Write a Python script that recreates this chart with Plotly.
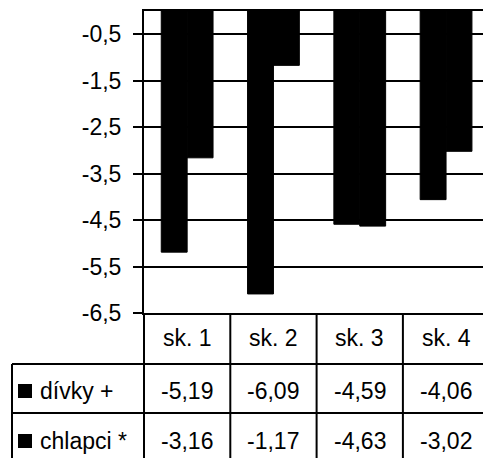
import plotly.graph_objects as go

# Group labels and values (mean change per group)
categories = ["sk. 1", "sk. 2", "sk. 3", "sk. 4"]
series_names = ["dívky +", "chlapci *"]
divky = [-5.19, -6.09, -4.59, -4.06]
chlapci = [-3.16, -1.17, -4.63, -3.02]

tick_vals = [-0.5, -1.5, -2.5, -3.5, -4.5, -5.5, -6.5]
tick_text = ["-0,5", "-1,5", "-2,5", "-3,5", "-4,5", "-5,5", "-6,5"]

W, H = 483, 458
ML, MR, MT, MB = 144, 0, 11, 145
PW, PH = W - ML - MR, H - MT - MB
FONT = dict(family="Liberation Sans, Arial, sans-serif", size=23, color="black")
LINE = dict(color="black", width=2)


def px_x(p):
    """pixel column -> paper x"""
    return (p - ML) / PW


def px_y(p):
    """pixel row -> paper y"""
    return (H - MB - p) / PH


def fmt(v):
    return f"{v:.2f}".replace(".", ",")


idx = list(range(len(categories)))
fig = go.Figure()
for name, vals in zip(series_names, [divky, chlapci]):
    fig.add_trace(go.Bar(x=idx, y=vals, name=name,
                         marker=dict(color="black", line=dict(color="black", width=1)),
                         showlegend=False))

shapes = []
annotations = []

# data-table grid lines
table_left = px_x(12)
row_lines = [px_y(364), px_y(413)]
bottom = px_y(H + 5)
for yl in row_lines:
    shapes.append(dict(type="line", xref="paper", yref="paper", x0=table_left, x1=1, y0=yl, y1=yl, line=LINE))
shapes.append(dict(type="line", xref="paper", yref="paper", x0=table_left, x1=table_left,
                   y0=row_lines[0], y1=bottom, line=LINE))
shapes.append(dict(type="line", xref="paper", yref="paper", x0=0, x1=0, y0=0, y1=bottom, line=LINE))
for i in idx[:-1]:
    shapes.append(dict(type="line", xref="x", yref="paper", x0=i + 0.5, x1=i + 0.5, y0=0, y1=bottom, line=LINE))

# header row: group labels
header_y = px_y(338)
for i, c in zip(idx, categories):
    annotations.append(dict(x=i, y=header_y, xref="x", yref="paper", text=c, showarrow=False,
                            xanchor="center", yanchor="middle", font=FONT))

# value rows with legend keys
row_centers = [px_y(391), px_y(441)]
for name, vals, yc in zip(series_names, [divky, chlapci], row_centers):
    half = 7 / PH
    shapes.append(dict(type="rect", xref="paper", yref="paper", x0=px_x(18), x1=px_x(32),
                       y0=yc - half, y1=yc + half, fillcolor="black", line=dict(width=0)))
    annotations.append(dict(x=px_x(38), y=yc, xref="paper", yref="paper", text=name, showarrow=False,
                            xanchor="left", yanchor="middle", font=FONT))
    for i, v in zip(idx, vals):
        annotations.append(dict(x=i, y=yc, xref="x", yref="paper", text=fmt(v), showarrow=False,
                                xanchor="center", yanchor="middle", font=FONT))

fig.update_layout(
    width=W, height=H,
    margin=dict(l=ML, r=MR, t=MT, b=MB, pad=0),
    paper_bgcolor="white", plot_bgcolor="white",
    barmode="group", bargap=0.4, bargroupgap=0,
    font=FONT,
    shapes=shapes, annotations=annotations,
    xaxis=dict(range=[-0.5, -0.5 + PW / 86.3], showticklabels=False, showgrid=False, zeroline=False,
               showline=True, mirror=True, linecolor="black", linewidth=2, ticks=""),
    yaxis=dict(range=[-6.5, 0], tickmode="array", tickvals=tick_vals, ticktext=tick_text,
               showgrid=True, gridcolor="black", gridwidth=2, zeroline=False,
               showline=True, linecolor="black", linewidth=2,
               ticks="outside", ticklen=9, tickwidth=2, tickcolor="black", ticklabelstandoff=7),
)

fig.write_html("out.html")
